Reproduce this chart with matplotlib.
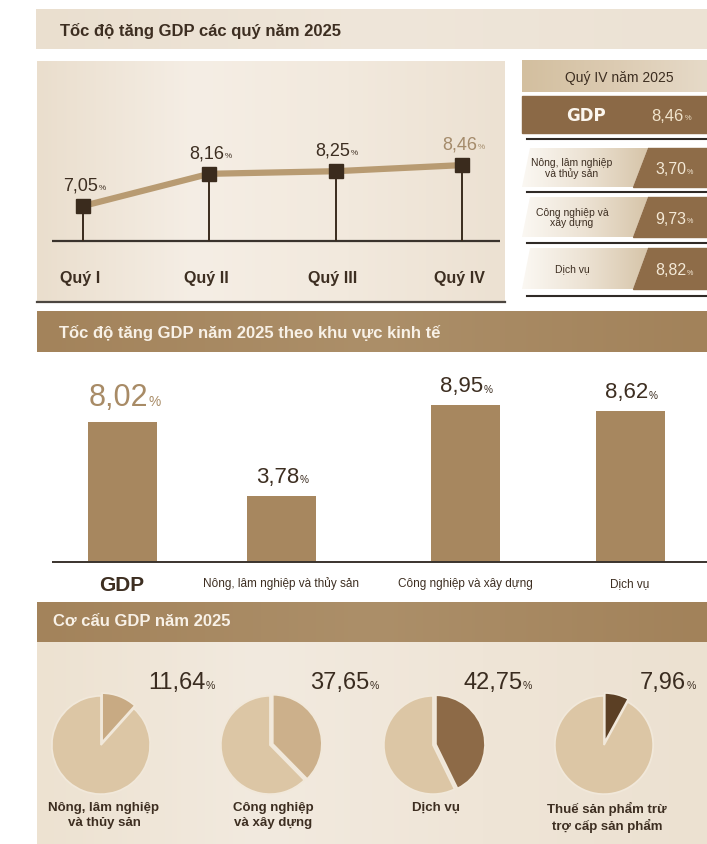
import numpy as np
import matplotlib.pyplot as plt
from matplotlib.colors import LinearSegmentedColormap
from matplotlib.patches import Rectangle, Polygon

# GDP growth by quarter, 2025 (%)
quarters = ['Quý I', 'Quý II', 'Quý III', 'Quý IV']
quarter_growth = [7.05, 8.16, 8.25, 8.46]

# Q4 breakdown
q4_gdp = 8.46
q4_sectors = ['Nông, lâm nghiệp\nvà thủy sản', 'Công nghiệp và\nxây dựng', 'Dịch vụ']
q4_growth = [3.70, 9.73, 8.82]

# full-year growth by economic sector
sectors = ['GDP', 'Nông, lâm nghiệp và thủy sản', 'Công nghiệp và xây dựng', 'Dịch vụ']
sector_growth = [8.02, 3.78, 8.95, 8.62]

# GDP structure 2025 (% share)
structure = ['Nông, lâm nghiệp\nvà thủy sản', 'Công nghiệp\nvà xây dựng', 'Dịch vụ',
             'Thuế sản phẩm trừ\ntrợ cấp sản phẩm']
structure_share = [11.64, 37.65, 42.75, 7.96]

W, H = 707, 845
ARIAL = ['Liberation Sans', 'DejaVu Sans']
plt.rcParams['font.family'] = ARIAL

DARK = '#3d2e21'
BAND = ['#a3835b', '#ac8f69', '#a2825a']
BAND_TEXT = '#f8f1e7'
BAR = '#a7875f'
PIE_BASE = '#dcc6a5'
PIE_SLICE = ['#c8aa83', '#ccb08b', '#8d6a47', '#5b3f24']


def vn(v):
    return f'{v:.2f}'.replace('.', ',')


def px_axes(x0, y0, x1, y1):
    a = fig.add_axes([x0 / W, 1 - y1 / H, (x1 - x0) / W, (y1 - y0) / H])
    a.patch.set_alpha(0)
    return a


def gradient(x0, y0, x1, y1, colors, clip=None):
    cmap = LinearSegmentedColormap.from_list('g', colors)
    grad = np.linspace(0, 1, 256).reshape(1, -1)
    im = bg.imshow(grad, cmap=cmap, extent=(x0, x1, y1, y0), aspect='auto',
                   zorder=0, interpolation='bicubic')
    if clip is not None:
        im.set_clip_path(Polygon(clip, closed=True, transform=bg.transData))
    return im


def pct_label(ax, x, y, value, size, color, dx=0, dy=0, ha='center',
              weight='normal', coords='data'):
    # number followed by a small percent sign sitting on the same baseline
    small = size * 0.45
    if ha == 'center':
        dx -= small * 0.3
    num = ax.annotate(vn(value), xy=(x, y), xycoords=coords, xytext=(dx, dy),
                      textcoords='offset points', ha=ha, va='baseline',
                      fontsize=size, color=color, fontweight=weight)
    ax.annotate('%', xy=(1, 0), xycoords=num, xytext=(0.3, 0.21 * (size - small)),
                textcoords='offset points', ha='left', va='bottom',
                fontsize=small, color=color)
    return num


fig = plt.figure(figsize=(W / 100, H / 100), dpi=100)
fig.patch.set_facecolor('white')
bg = fig.add_axes([0, 0, 1, 1])
bg.set_xlim(0, W)
bg.set_ylim(H, 0)
bg.set_autoscale_on(False)
bg.axis('off')

# ---- section 1: quarterly growth ----
gradient(36, 10, W, 50, ['#eadfcf', '#efe6da', '#ece2d4'])
bg.text(60, 31, 'Tốc độ tăng GDP các quý năm 2025', fontsize=12, fontweight='bold',
        color=DARK, va='center')
gradient(37, 62, 505, 302, ['#eadecd', '#f5eee5', '#f2e9dd', '#ece1d2'])
bg.plot([37, 505], [303, 303], color='#4c4640', lw=1.6)

ax = px_axes(37, 62, 505, 303)
xs = np.arange(len(quarters))
ax.set_xlim((37 - 83) / 126.3, (505 - 83) / 126.3)
ax.set_ylim(3.74, 12.05)
ax.axis('off')
base = 5.84
ax.hlines(base, -0.245, 3.30, color='#3a332d', lw=1.6)
ax.vlines(xs, base, quarter_growth, color='#3a2b1d', lw=1.4)
ax.plot(xs, quarter_growth, color='#b89b72', lw=4.5, zorder=3)
ax.plot(xs, quarter_growth, 's', ms=9.8, color='#3a2b1d', zorder=4)
for i, v in enumerate(quarter_growth):
    c = '#a48b6b' if i == len(quarter_growth) - 1 else DARK
    pct_label(ax, i, v, v, 13, c, dy=12)
    ax.text(i - 0.02, 4.6, quarters[i], ha='center', va='center', fontsize=11.5,
            fontweight='bold', color=DARK)

# Q4 side panel
gradient(522, 61, W, 93, ['#d3bf9f', '#dccbb2', '#e6dac8'])
bg.text(619, 78, 'Quý IV năm 2025', fontsize=10, color=DARK, ha='center', va='center')
bg.add_patch(Rectangle((522, 97), W - 522, 37, color='#8b6946', zorder=1))
bg.text(586, 116, 'GDP', family=['DejaVu Sans'], fontweight='bold', fontsize=12,
        color='#fbf6ee', ha='center', va='center', zorder=2)
pct_label(bg, 670, 121, q4_gdp, 12, '#f1e4cc')
for y in [140, 193, 244, 297]:
    bg.plot([527, W], [y, y], color='#2f2a26', lw=1.5)
row_top = [149, 198, 249]
row_bot = [188, 238, 290]
for name, v, t, b in zip(q4_sectors, q4_growth, row_top, row_bot):
    gradient(522, t, 650, b, ['#fbf8f3', '#ece2d3', '#d6c4a8'],
             clip=[(530, t), (648, t), (633, b), (522, b)])
    bg.add_patch(Polygon([(648, t), (W, t), (W, b), (633, b)], closed=True,
                         color='#8e6c48', zorder=1))
    m = (t + b) / 2
    bg.text(572, m, name, fontsize=7.5, color=DARK, ha='center', va='center',
            linespacing=0.95, zorder=2)
    pct_label(bg, 673, m + 6, v, 11.5, '#f4e9d6')

# ---- section 2: growth by sector ----
gradient(37, 313, W, 353, BAND)
bg.text(59, 333, 'Tốc độ tăng GDP năm 2025 theo khu vực kinh tế', fontsize=12,
        fontweight='bold', color=BAND_TEXT, va='center')

ax = px_axes(37, 353, W, 598)
bar_x = [122, 281, 465, 630]
ax.set_xlim(37, W)
ax.set_ylim(-2.0, 12.0)
ax.axis('off')
ax.bar(bar_x, sector_growth, width=69, color=BAR, zorder=2)
ax.hlines(0, 52, W, color='#3a332d', lw=1.4, zorder=3)
for i, (x, v) in enumerate(zip(bar_x, sector_growth)):
    if i == 0:
        pct_label(ax, x, v, v, 22, '#a88b66', dy=12)
        ax.text(x, -1.26, sectors[i], ha='center', va='center', fontsize=15,
                fontweight='bold', color=DARK)
    else:
        pct_label(ax, x, v, v, 16, DARK, dy=10)
        ax.text(x, -1.2, sectors[i], ha='center', va='center', fontsize=8.5, color=DARK)

# ---- section 3: GDP structure ----
gradient(37, 603, W, 643, BAND)
bg.text(53, 622, 'Cơ cấu GDP năm 2025', fontsize=12, fontweight='bold',
        color=BAND_TEXT, va='center')
gradient(37, 643, W, H, ['#ede2d1', '#f2eadf', '#efe5d7', '#ece1d1'])

pie_cx = [101, 270, 433, 604]
pie_label_x = [148, 310, 463, 640]
for cx, lx, name, share, col in zip(pie_cx, pie_label_x, structure, structure_share, PIE_SLICE):
    pa = px_axes(cx - 59, 687, cx + 59, 805)
    pa.pie([share, 100 - share], colors=[col, PIE_BASE], startangle=90,
           counterclock=False, explode=[0.06, 0],
           wedgeprops=dict(edgecolor='#f1e8da', linewidth=1.3))
    pa.set_xlim(-1.2, 1.2)
    pa.set_ylim(-1.2, 1.2)
    pct_label(bg, lx, 689, share, 17, '#3a2c20', ha='left')
    bg.text(cx + 3, 802, name, ha='center', va='top', fontsize=9.5, fontweight='bold',
            color=DARK, linespacing=1.3)

fig.savefig('out.png', dpi=100, facecolor='white')
